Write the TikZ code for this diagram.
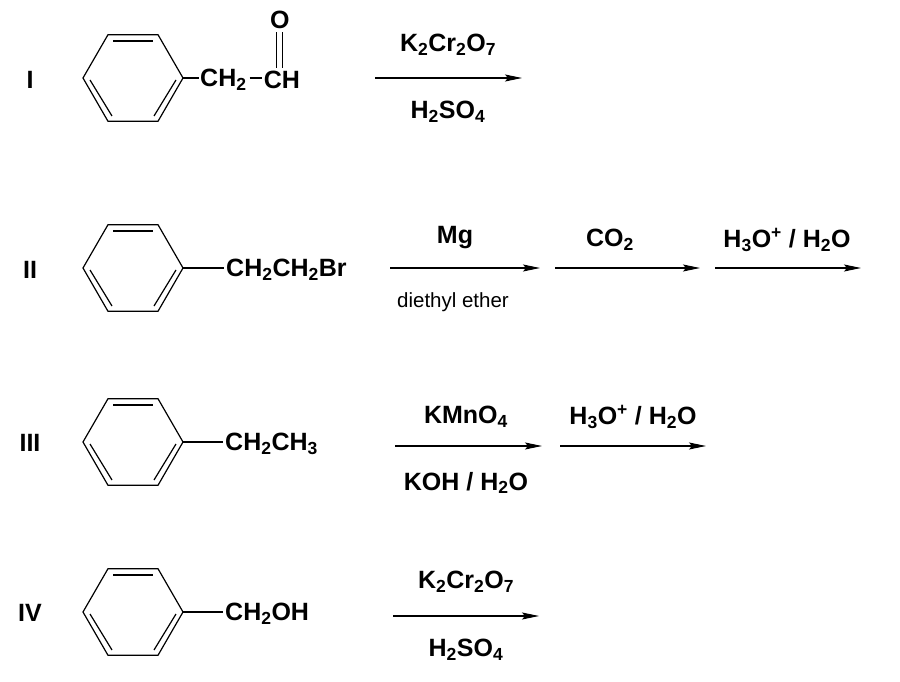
\documentclass[tikz,border=0pt]{standalone}
\usepackage{fontspec}
\setmainfont{Liberation Sans}
\usetikzlibrary{arrows.meta,calc}
\tikzset{
  lbl/.style={font=\fontsize{25}{28}\selectfont\bfseries, inner sep=0pt},
  small/.style={font=\fontsize{20.5}{23}\selectfont, inner sep=0pt},
  rxn/.style={line width=1.1pt, -{Stealth[length=17pt,width=7pt,inset=3pt]}},
  bond/.style={line width=1.2pt}
}
\newcommand{\sbs}[1]{\textsubscript{#1}}
\newcommand{\sps}[1]{\textsuperscript{#1}}
\newcommand{\benzring}[2]{%
  \draw[bond] (#1+50,#2) -- (#1+25,#2-43.3) -- (#1-25,#2-43.3) -- (#1-50,#2)
    -- (#1-25,#2+43.3) -- (#1+25,#2+43.3) -- cycle;
  \draw[bond] (#1-20,#2-37) -- (#1+20,#2-37);
  \draw[bond] (#1+43,#2+2) -- (#1+21,#2+38);
  \draw[bond] (#1-43,#2+2) -- (#1-21,#2+38);
}
\begin{document}
\begin{tikzpicture}[x=1pt,y=-1pt]
\useasboundingbox (0,0) rectangle (900,682);

% I
\node[lbl] (n1) at (30,80) {I};
\benzring{133}{78}
\draw[bond] (183,78) -- (199,78);
\node[lbl, anchor=west] (ch2a) at (200,80) {CH\sbs{2}};
\draw[bond] ($(ch2a.east)+(3,-2)$) coordinate (d1) -- ++(12,0) coordinate (d2);
\node[lbl, anchor=west] (cha) at ($(d2)+(2,2)$) {CH};
\node[lbl] (oa) at ($(cha.west)+(16,-60)$) {O};
\draw[bond] ($(oa.south)+(-3,3)$) -- ($(cha.north west)+(13,-3)$);
\draw[bond] ($(oa.south)+(3,3)$) -- ($(cha.north west)+(19,-3)$);
\draw[rxn] (375,78) -- (522,78);
\node[lbl] (r1a) at (448,45) {K\sbs{2}Cr\sbs{2}O\sbs{7}};
\node[lbl] (r1b) at (448,112) {H\sbs{2}SO\sbs{4}};

% II
\node[lbl] (n2) at (30,270) {II};
\benzring{133}{268}
\draw[bond] (183,268) -- (224,268);
\node[lbl, anchor=west] (s2) at (226,270) {CH\sbs{2}CH\sbs{2}Br};
\draw[rxn] (390,268) -- (540,268);
\draw[rxn] (555,268) -- (700,268);
\draw[rxn] (715,268) -- (861,268);
\node[lbl] (r2a) at (455,238) {Mg};
\node[small] (r2b) at (453,302) {diethyl ether};
\node[lbl] (r2c) at (610,240) {CO\sbs{2}};
\node[lbl] (r2d) at (787,240) {H\sbs{3}O\sps{+} / H\sbs{2}O};

% III
\node[lbl] (n3) at (30,443) {III};
\benzring{133}{442}
\draw[bond] (183,442) -- (223,442);
\node[lbl, anchor=west] (s3) at (225,444) {CH\sbs{2}CH\sbs{3}};
\draw[rxn] (395,446) -- (542,446);
\draw[rxn] (560,446) -- (706,446);
\node[lbl] (r3a) at (466,417) {KMnO\sbs{4}};
\node[lbl] (r3b) at (466,483) {KOH / H\sbs{2}O};
\node[lbl] (r3c) at (633,417) {H\sbs{3}O\sps{+} / H\sbs{2}O};

% IV
\node[lbl] (n4) at (30,613) {IV};
\benzring{133}{612}
\draw[bond] (183,612) -- (223,612);
\node[lbl, anchor=west] (s4) at (225,614) {CH\sbs{2}OH};
\draw[rxn] (393,616) -- (539,616);
\node[lbl] (r4a) at (466,582) {K\sbs{2}Cr\sbs{2}O\sbs{7}};
\node[lbl] (r4b) at (466,650) {H\sbs{2}SO\sbs{4}};
\end{tikzpicture}
\end{document}
